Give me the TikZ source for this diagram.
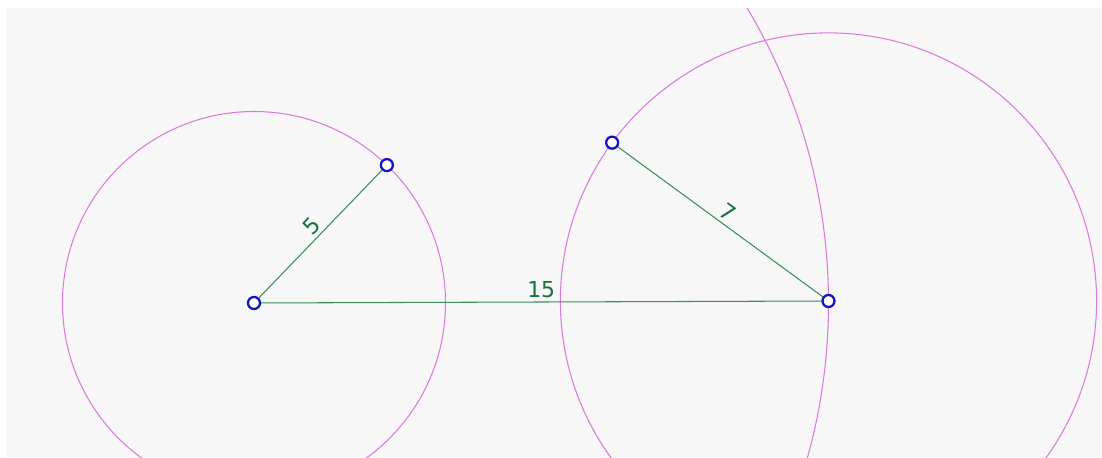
\documentclass[tikz,border=0pt]{standalone}
\usepackage{fontspec}
\setsansfont{DejaVu Sans}
\definecolor{bgcol}{HTML}{F7F7F7}
\definecolor{arccol}{HTML}{DA7ADA}
\definecolor{segcol}{HTML}{3C8C5C}
\definecolor{lblcol}{HTML}{16703C}
\definecolor{ptcol}{HTML}{1414C0}
\begin{document}
\begin{tikzpicture}[x=0.766cm,y=0.766cm,
  circ/.style={draw=arccol,line width=0.6pt},
  seg/.style={draw=segcol,line width=0.6pt},
  lbl/.style={font=\sffamily\fontsize{12.5}{14}\selectfont,text=lblcol,sloped,above,inner sep=2pt},
  pt/.style={circle,draw=ptcol,fill=white,line width=1.3pt,minimum size=0.24cm,inner sep=0pt}]
  \def\ra{5}\def\rb{7}\def\rc{15}
  \useasboundingbox (-6.632,-4.021) rectangle (22.141,7.911);
  \fill[bgcol] (-6.475,-4.021) rectangle (22.141,7.702);
  \coordinate (A) at (0,0);
  \coordinate (B) at (46.06:\ra);
  \coordinate (C) at (0.2:\rc);
  \path (C) ++(143.8:\rb) coordinate (D);
  \begin{scope}
    \clip (-6.475,-4.021) rectangle (22.141,7.702);
    \draw[circ] (A) circle (\ra) (C) circle (\rb) (A) circle (\rc);
  \end{scope}
  \node[pt] (pA) at (A) {};
  \node[pt] (pB) at (B) {};
  \node[pt] (pC) at (C) {};
  \node[pt] (pD) at (D) {};
  \draw[seg] (pA) -- node[lbl] (l5) {5} (pB);
  \draw[seg] (pA) -- node[lbl] (l15) {15} (pC);
  \draw[seg] (pD) -- node[lbl] (l7) {7} (pC);
\end{tikzpicture}
\end{document}
